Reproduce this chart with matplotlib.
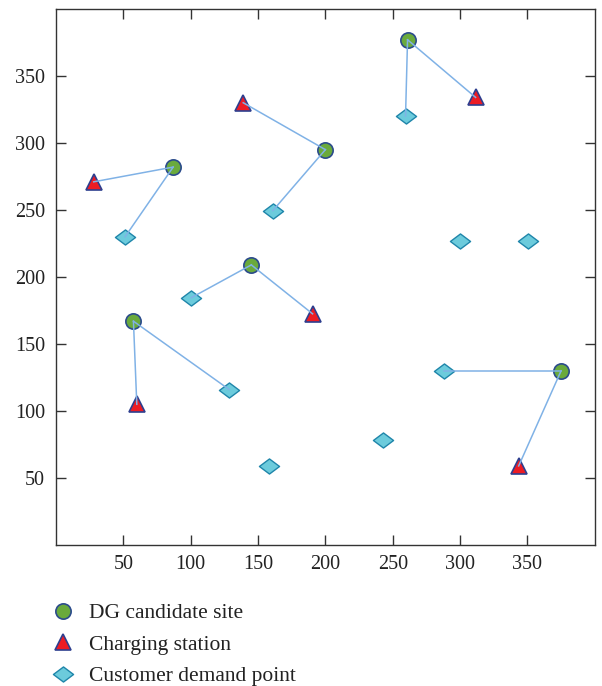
import matplotlib
matplotlib.use("Agg")
import matplotlib.pyplot as plt
from matplotlib.lines import Line2D
from matplotlib.path import Path

plt.rcParams['font.family'] = ['Liberation Serif', 'DejaVu Serif']

# DG candidate sites
dg_x = [87, 200, 261, 145, 57.5, 375]
dg_y = [282, 295, 377, 209, 167, 130]
# charging stations
cs_x = [28, 139, 311.5, 190.5, 60, 343.5]
cs_y = [271, 330, 334, 172.5, 105, 59]
# customer demand points
cd_x = [51.3, 161, 259.5, 300, 350.7, 100.4, 128.6, 158, 287.7, 243]
cd_y = [230, 249.5, 320, 227, 227, 184.5, 116, 59, 130, 78]

# connections: DG index -> charging station index, demand point index
link_cs = [0, 1, 2, 3, 4, 5]
link_cd = [0, 1, 2, 5, 6, 8]

labels = ["DG candidate site", "Charging station", "Customer demand point"]
ticks = [50, 100, 150, 200, 250, 300, 350]

green, green_edge = "#6aaa3c", "#2b4b8c"
red, red_edge = "#ec1c24", "#2e3f8f"
cyan, cyan_edge = "#6ccbdc", "#1f86aa"
line_c = "#80b2e6"

diamond = Path([(-1, 0), (0, 0.75), (1, 0), (0, -0.75), (-1, 0)],
               [Path.MOVETO, Path.LINETO, Path.LINETO, Path.LINETO, Path.CLOSEPOLY])

fig = plt.figure(figsize=(6.02, 6.86), dpi=100)
ax = fig.add_axes([0.093, 0.2055, 0.895, 0.7815])

ax.plot(dg_x, dg_y, 'o', ms=11, mfc=green, mec=green_edge, mew=1.2, ls='none', zorder=3)
ax.plot(cs_x, cs_y, '^', ms=12, mfc=red, mec=red_edge, mew=1.2, ls='none', zorder=3)
ax.plot(cd_x, cd_y, marker=diamond, ms=14.5, mfc=cyan, mec=cyan_edge, mew=1.0, ls='none', zorder=3)

for i in range(len(dg_x)):
    j = link_cs[i]
    k = link_cd[i]
    ax.plot([dg_x[i], cs_x[j]], [dg_y[i], cs_y[j]], color=line_c, lw=1.1, zorder=4)
    ax.plot([dg_x[i], cd_x[k]], [dg_y[i], cd_y[k]], color=line_c, lw=1.1, zorder=4)

ax.set_xlim(0, 400)
ax.set_ylim(0, 400)
ax.set_xticks(ticks)
ax.set_yticks(ticks)
ax.tick_params(direction='in', length=7, width=1.0, color='#333333',
               top=True, right=True, labelsize=14.5, labelcolor='#222222')
ax.tick_params(axis='x', pad=7)
ax.tick_params(axis='y', pad=8)
for s in ax.spines.values():
    s.set_color('#333333')
    s.set_linewidth(1.0)

handles = [
    Line2D([], [], marker='o', ms=11, mfc=green, mec=green_edge, mew=1.2, ls='none'),
    Line2D([], [], marker='^', ms=12, mfc=red, mec=red_edge, mew=1.2, ls='none'),
    Line2D([], [], marker=diamond, ms=14.5, mfc=cyan, mec=cyan_edge, mew=1.0, ls='none'),
]
fig.legend(handles, labels, loc='upper left', bbox_to_anchor=(53 / 602, 1 - 603 / 686),
           frameon=False, fontsize=15.5, borderpad=0, borderaxespad=0,
           handlelength=0.95, handletextpad=0.7, labelspacing=0.54, labelcolor='#222222')

fig.savefig("out.png", dpi=100)
